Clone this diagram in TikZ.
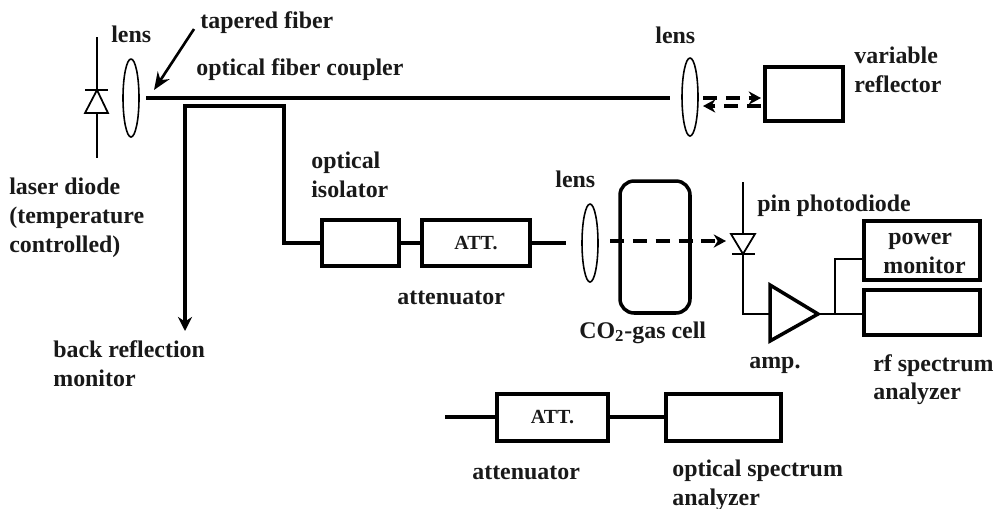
\documentclass[tikz,border=0pt]{standalone}
\usepackage{fontspec}
\setmainfont{Liberation Serif}
\usetikzlibrary{shapes.geometric,arrows.meta}
\tikzset{
  lbl/.style={anchor=base west,inner sep=0pt,font=\fontsize{13.6}{16.5}\selectfont\bfseries,text=black!90},
  att/.style={font=\fontsize{11.4}{13}\selectfont\bfseries,text=black!90},
  box/.style={draw,line width=2pt,inner sep=0pt},
  lens/.style={draw,ellipse,line width=0.9pt,inner sep=0pt,minimum width=0.32cm,minimum height=1.56cm},
  fiber/.style={line width=2.1pt},
  wire/.style={line width=1pt},
  beam/.style={line width=2.2pt,dash pattern=on 8pt off 5pt,-{Stealth[length=7pt,width=7.5pt]}}
}
\begin{document}
\begin{tikzpicture}[x=0.02cm,y=-0.02cm]
\useasboundingbox (0,0) rectangle (993,508);

% laser diode
\coordinate (ldtop) at (97,37);
\coordinate (ldbot) at (97,158);
\coordinate (ldk) at (97,90);
\coordinate (ldl) at (85,113);
\coordinate (ldr) at (108,113);
\coordinate (ldbl) at (85,90);
\coordinate (ldbr) at (108,90);
\draw[wire] (ldtop) -- (ldk);
\draw[line width=1.2pt] (ldbl) -- (ldbr);
\draw[wire] (ldk) -- (ldl) -- (ldr) -- cycle;
\draw[wire] (97,113) -- (ldbot);

% lenses
\node[lens] (lensa) at (131,98) {};
\node[lens] (lensb) at (690,97) {};
\node[lens] (lensc) at (590,243) {};

% fiber
\coordinate (fibl) at (146,98);
\coordinate (fibr) at (670,98);
\draw[fiber] (fibl) -- (fibr);
\coordinate (tapa) at (194,29);
\coordinate (tapb) at (154,90);
\draw[line width=1.5pt,-{Stealth[length=10pt,width=8pt]}] (tapa) -- (tapb);

% boxes
\node[box,minimum width=1.54cm,minimum height=0.92cm] (iso) at (360.5,243) {};
\node[box,att,minimum width=2.16cm,minimum height=0.92cm] (atta) at (476,243) {ATT.};
\node[box,minimum width=1.56cm,minimum height=1.08cm] (refl) at (804,94) {};
\node[box,rounded corners=8pt,minimum width=1.40cm,minimum height=2.64cm] (cell) at (655,247) {};
\node[box,minimum width=2.32cm,minimum height=1.18cm] (pow) at (922,250.5) {};
\node[box,minimum width=2.32cm,minimum height=0.90cm] (rfsa) at (922,312.5) {};
\node[box,att,minimum width=2.22cm,minimum height=0.94cm] (attb) at (552.5,417.5) {ATT.};
\node[box,minimum width=2.30cm,minimum height=0.94cm] (osa) at (723.5,417.5) {};

% back reflection and isolator path
\coordinate (backend) at (185,331);
\draw[fiber,-{Stealth[length=8pt,width=8pt]}] (iso.west) -| (284,106) -- (185,106) -- (backend);
\draw[fiber] (iso) -- (atta);
\coordinate (atout) at (566,243);
\draw[fiber] (atta.east) -- (atout);

% beams
\coordinate (beamin) at (610,241);
\coordinate (beamout) at (726,241);
\draw[beam] (beamin) -- (beamout);
\coordinate (refa) at (703,98);
\coordinate (refb) at (761,98);
\coordinate (refc) at (703,106);
\coordinate (refd) at (761,106);
\draw[beam] (refa) -- (refb);
\draw[beam] (refd) -- (refc);

% photodiode
\coordinate (pdtop) at (743,182);
\coordinate (pdk) at (743,254);
\coordinate (pdl) at (731,234);
\coordinate (pdr) at (755,234);
\coordinate (pdbl) at (732,254);
\coordinate (pdbr) at (755,254);
\draw[wire] (pdtop) -- (743,234);
\draw[wire] (pdl) -- (pdr) -- (pdk) -- cycle;
\draw[line width=1.2pt] (pdbl) -- (pdbr);

% amplifier
\coordinate (ampa) at (770,285);
\coordinate (ampb) at (770,341);
\coordinate (ampc) at (818,314);
\draw[box,line join=miter] (ampa) -- (ampc) -- (ampb) -- cycle;
\draw[wire] (pdk) |- (770,314);
\draw[wire] (ampc) -- (rfsa.west |- ampc);
\draw[wire] (835,314) |- (pow.west |- 0,259);

% lower chain
\coordinate (osin) at (445,417);
\draw[fiber] (osin) -- (attb.west |- osin);
\draw[fiber] (attb.east |- osin) -- (osa.west |- osin);

% labels
\node[lbl] (tlensa) at (111,42) {lens};
\node[lbl] (ttaper) at (200,28) {tapered fiber};
\node[lbl] (tcoup) at (196,75) {optical fiber coupler};
\node[lbl] (tlensb) at (655,43) {lens};
\node[lbl] (tvara) at (854,63) {variable};
\node[lbl] (tvarb) at (854,92) {reflector};
\node[lbl] (tlda) at (9,194) {laser diode};
\node[lbl] (tldb) at (9,223) {(temperature};
\node[lbl] (tldc) at (9,252) {controlled)};
\node[lbl] (tisoa) at (311,168) {optical};
\node[lbl] (tisob) at (311,197) {isolator};
\node[lbl] (tlensc) at (555,187) {lens};
\node[lbl] (tpin) at (757,211) {pin photodiode};
\node[lbl] (tpowa) at (888,244) {power};
\node[lbl] (tpowb) at (883,273) {monitor};
\node[lbl] (tatta) at (397,304) {attenuator};
\node[lbl] (tcell) at (579,338) {CO\textsubscript{2}-gas cell};
\node[lbl] (tbacka) at (53,357) {back reflection};
\node[lbl] (tbackb) at (53,386) {monitor};
\node[lbl] (tamp) at (749,368) {amp.};
\node[lbl] (trfa) at (873,371) {rf spectrum};
\node[lbl] (trfb) at (873,399) {analyzer};
\node[lbl] (tattb) at (472,479) {attenuator};
\node[lbl] (tosaa) at (672,476) {optical spectrum};
\node[lbl] (tosab) at (672,505) {analyzer};

\end{tikzpicture}
\end{document}
